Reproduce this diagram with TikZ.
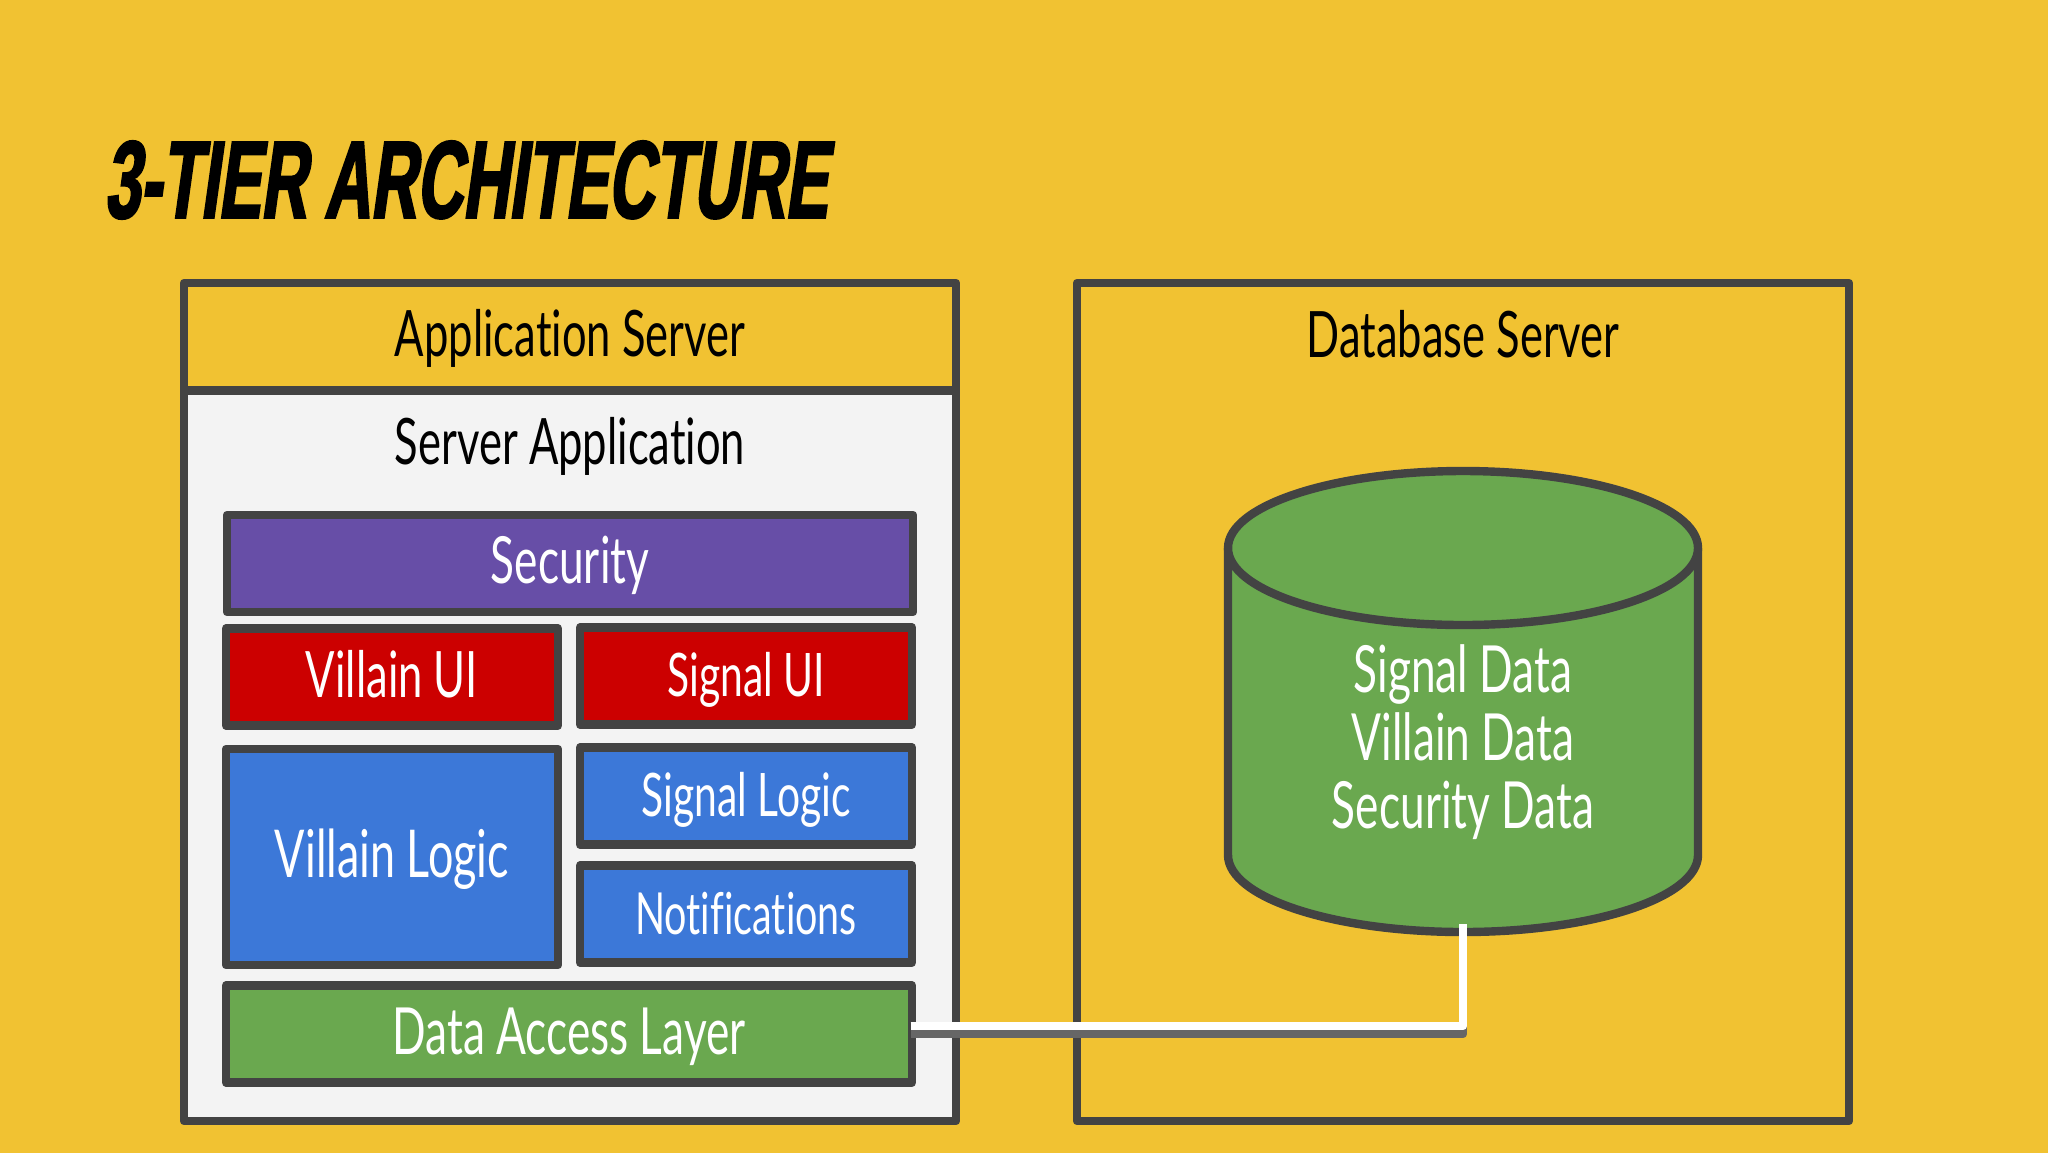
\documentclass[tikz,border=0pt]{standalone}
\usepackage{fontspec}
\setmainfont[FakeStretch=0.68,Ligatures=NoCommon]{Lato}
\newfontfamily\titlefont[FakeStretch=0.58,FakeSlant=0.14,FakeBold=2]{Liberation Sans Bold}
\definecolor{gold}{HTML}{F1C232}
\definecolor{slate}{HTML}{434343}
\definecolor{paper}{HTML}{F3F3F3}
\definecolor{leaf}{HTML}{6AA84F}
\definecolor{grape}{HTML}{674EA7}
\definecolor{crimson}{HTML}{CC0000}
\definecolor{azure}{HTML}{3C78D8}
\begin{document}
\begin{tikzpicture}[x=.5pt,y=-.5pt,
 tier/.style ={draw=slate,line width=4.2pt,line join=round,inner sep=0pt,text height=24pt,text depth=4pt,align=center},
 label/.style ={inner sep=0pt,font=\fontsize{32}{34}\selectfont},
 linkback/.style ={-,draw=black!60,line width=4.2pt,line join=round},
 linkfront/.style ={-,draw=white,line width=4.2pt,line join=round}
 ]
\useasboundingbox (0,0) rectangle (2048,1152);
\fill[gold] (-6,-6) rectangle (2054,1158);
%draw title
\node[inner sep=0pt,anchor=west] (title) at (104,180) {\titlefont\fontsize{55}{55}\selectfont 3-TIER ARCHITECTURE};
%draw application server
\node[tier,minimum width=386pt,minimum height=53.75pt,font=\fontsize{32}{34}\selectfont] (appserver) at (570,336.75) {Application Server};
\node[tier,fill=paper,minimum width=386pt,minimum height=365.25pt] (appbody) at (570,755.75) {};
\node[label] (servertitle) at (570,446) {Server Application};
%draw database server
\node[tier,minimum width=386pt,minimum height=419pt] (dbserver) at (1463,702) {};
\node[label] (dbtitle) at (1463,334) {Database Server};
%draw layers
\node[tier,fill=grape,text=white,minimum width=343pt,minimum height=48.5pt,font=\fontsize{32.5}{34}\selectfont] (security) at (570,563.5) {Security};
\node[tier,fill=crimson,text=white,minimum width=166pt,minimum height=48.5pt,font=\fontsize{32}{34}\selectfont] (villainui) at (392,677) {Villain UI};
\node[tier,fill=crimson,text=white,minimum width=166pt,minimum height=48.5pt,font=\fontsize{30}{32}\selectfont] (signalui) at (746,676) {Signal UI};
\node[tier,fill=azure,text=white,minimum width=166pt,minimum height=108pt,font=\fontsize{33}{35}\selectfont] (villainlogic) at (392,857) {Villain Logic};
\node[tier,fill=azure,text=white,minimum width=166pt,minimum height=48.5pt,font=\fontsize{30}{32}\selectfont] (signallogic) at (746,796) {Signal Logic};
\node[tier,fill=azure,text=white,minimum width=166pt,minimum height=48.5pt,font=\fontsize{29}{31}\selectfont] (notifications) at (746,914) {Notifications};
\node[tier,fill=leaf,text=white,minimum width=343pt,minimum height=48.5pt,font=\fontsize{32.5}{34}\selectfont] (dal) at (569,1034) {Data Access Layer};
%draw database
\draw[draw=slate,fill=leaf,line width=4.2pt] (1228,548) -- (1228,855) arc[start angle=180,end angle=360,x radius=117.5pt,y radius=38.5pt] -- (1698,548);
\draw[draw=slate,fill=leaf,line width=4.2pt] (1463,548) ellipse [x radius=117.5pt,y radius=38.5pt];
\node[label,text=white,align=center,font=\fontsize{32.5}{34}\selectfont] (dbdata) at (1463,742) {Signal Data\\Villain Data\\Security Data};
%draw connection
\coordinate (dalport) at (910.5,1026);
\coordinate (dbport) at (1463,924);
\coordinate (dalshade) at (910.5,1034);
\coordinate (dbshade) at (1463,932);
\draw[linkback] (dalshade) -| (dbshade);
\draw[linkfront] (dalport) -| (dbport);
\end{tikzpicture}
\end{document}
